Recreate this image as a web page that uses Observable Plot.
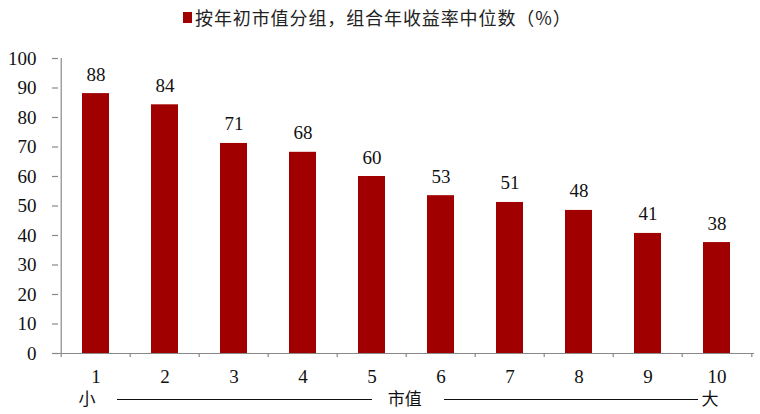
<!DOCTYPE html>
<html>
<head>
<meta charset="utf-8">
<script src="https://cdn.jsdelivr.net/npm/d3@7"></script>
<script src="https://cdn.jsdelivr.net/npm/@observablehq/plot@0.6"></script>
<style>
  body { margin: 0; background: #fff; }
  #wrap { width: 760px; height: 414px; position: relative; overflow: hidden; }
  #legend { position: relative; height: 36px; }
  #legend .sw { position: absolute; left: 183px; top: 12px; width: 9px; height: 11px; }
  #legend .lab { position: absolute; left: 195px; top: 5px; font: 18px "Noto Sans CJK SC", sans-serif; letter-spacing: 0.9px; line-height: 24px; color: #222; white-space: nowrap; }
</style>
</head>
<body>
<div id="wrap">
  <div id="legend"><span class="sw"></span><span class="lab"></span></div>
  <div id="chart"></div>
</div>
<script>
const categories = ["1", "2", "3", "4", "5", "6", "7", "8", "9", "10"];
const values = [88.1, 84.3, 71.2, 68.2, 60.0, 53.5, 51.2, 48.5, 40.7, 37.6];
const valueLabels = ["88", "84", "71", "68", "60", "53", "51", "48", "41", "38"];
const yTicks = [0, 10, 20, 30, 40, 50, 60, 70, 80, 90, 100];
const seriesName = "按年初市值分组，组合年收益率中位数（%）";
const sizeSmall = "小";
const sizeLabel = "市值";
const sizeLarge = "大";

const barColor = "#A00000";
const axisColor = "#888";

document.querySelector("#legend .sw").style.background = barColor;
document.querySelector("#legend .lab").textContent = seriesName;

const data = categories.map((c, i) => ({cat: c, value: values[i], label: valueLabels[i]}));

const W = 760, H = 378, mL = 58, mR = 6, mT = 22, mB = 61;
const step = (W - mL - mR) / categories.length;
const cjk = "'Noto Sans CJK SC', sans-serif";

const chart = Plot.plot({
  width: W,
  height: H,
  marginTop: mT,
  marginBottom: mB,
  marginLeft: mL,
  marginRight: mR,
  style: {fontFamily: "'Liberation Serif', serif", fontSize: "19px", color: "#111", background: "#fff", overflow: "visible"},
  x: {domain: categories, paddingInner: 0.61, paddingOuter: 0.305, axis: null, label: null},
  y: {domain: [0, 100], axis: null, label: null},
  marks: [
    Plot.barY(data, {x: "cat", y: "value", fill: barColor}),
    // y axis line at left band boundary
    Plot.ruleX([categories[0]], {x: d => d, y1: 0, y2: 100, dx: -step / 2, stroke: axisColor, strokeWidth: 1.2}),
    Plot.axisY({ticks: yTicks, tickSize: 6, text: null, label: null, stroke: axisColor, strokeWidth: 1.2}),
    Plot.axisY({ticks: yTicks, tickSize: 0, tickPadding: 22, label: null, fontSize: 19}),
    // x baseline
    Plot.ruleY([0], {stroke: axisColor, strokeWidth: 1.2, insetLeft: -6}),
    // boundary ticks
    Plot.axisX({tickSize: 4, text: null, label: null, dx: -step / 2, stroke: axisColor, strokeWidth: 1.2}),
    Plot.axisX([categories[categories.length - 1]], {tickSize: 4, text: null, label: null, dx: step / 2, stroke: axisColor, strokeWidth: 1.2}),
    Plot.axisX({tickSize: 0, tickPadding: 16, label: null, fontSize: 19}),
    // value labels
    Plot.text(data, {x: "cat", y: "value", text: "label", dy: -13, lineAnchor: "bottom", fontSize: 19, fill: "#111"}),
    // size annotation
    Plot.text([sizeSmall], {x: () => categories[0], y: () => 0, text: d => d, dx: -9, dy: 46, lineAnchor: "middle", fontFamily: cjk, fontSize: 17, fill: "#111"}),
    Plot.text([sizeLabel], {x: () => categories[4], y: () => 0, text: d => d, dx: step / 2 - 2, dy: 46, lineAnchor: "middle", fontFamily: cjk, fontSize: 17, fill: "#111"}),
    Plot.text([sizeLarge], {x: () => categories[9], y: () => 0, text: d => d, dx: -7, dy: 46, lineAnchor: "middle", fontFamily: cjk, fontSize: 17, fill: "#111"}),
    Plot.ruleY([0], {insetLeft: 59, insetRight: 382, dy: 46, stroke: "#111", strokeWidth: 1.2}),
    Plot.ruleY([0], {insetLeft: 386, insetRight: 56, dy: 46, stroke: "#111", strokeWidth: 1.2})
  ]
});
document.getElementById("chart").appendChild(chart);
</script>
</body>
</html>
